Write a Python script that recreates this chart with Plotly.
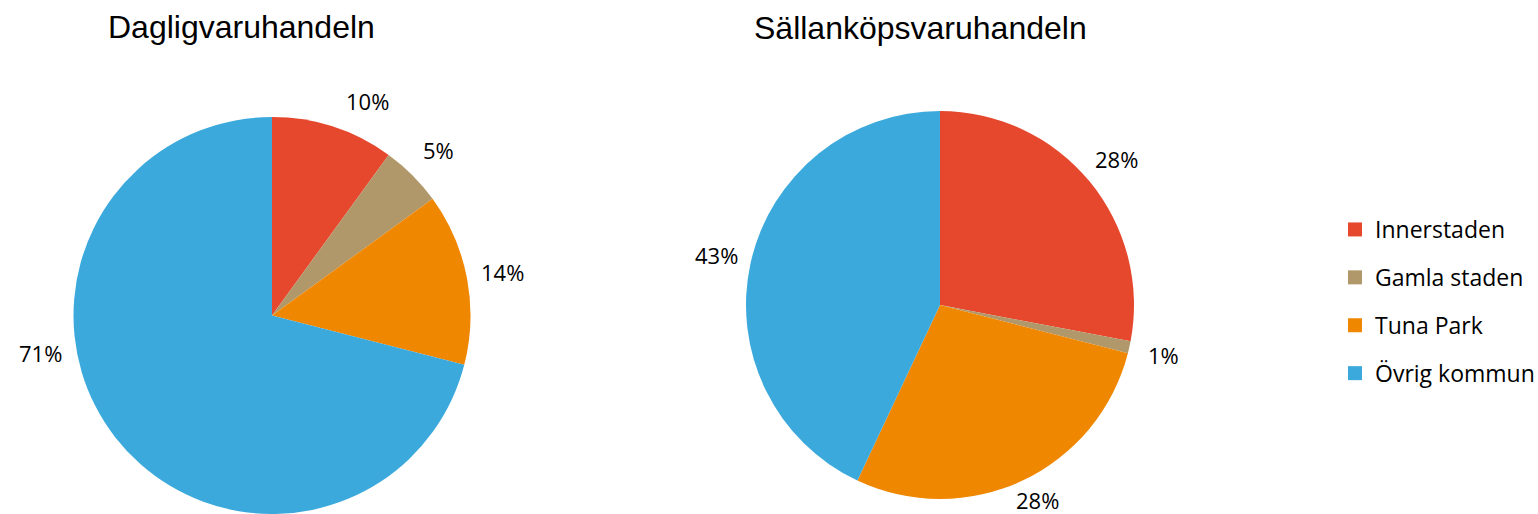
import math
import plotly.graph_objects as go

categories = ["Innerstaden", "Gamla staden", "Tuna Park", "Övrig kommun"]
colors = ["#E5482D", "#B1986A", "#F08700", "#3BA9DC"]
dagligvaru = [10, 5, 14, 71]
sallankop = [28, 1, 28, 43]
titles = ["Dagligvaruhandeln", "Sällanköpsvaruhandeln"]

W, H = 1538, 514
LABEL_FONT = dict(family="Open Sans, Lato, sans-serif", size=22, color="#000000")
LEGEND_FONT = dict(family="Open Sans, Lato, sans-serif", size=23, color="#000000")
TITLE_FONT = dict(family="Liberation Sans, Arial, sans-serif", size=32, color="#000000")

# pie geometry in pixels (center x, center y, radius) and title centres
PIES = [dict(cx=272, cy=316, r=199, title_x=241, title_y=27),
        dict(cx=940, cy=305, r=194, title_x=920, title_y=28)]
LABEL_DIST = 1.18
LABEL_BOTTOM_LIMIT = H - 14
# Excel moved some labels away from the slice mid-angle (best-fit placement)
LABEL_ANGLE_OVERRIDE = {(0, 0): 24, (0, 3): 261}

fig = go.Figure()

for pi, (vals, geo, title) in enumerate(zip([dagligvaru, sallankop], PIES, titles)):
    cx, cy, r = geo["cx"], geo["cy"], geo["r"]
    fig.add_trace(go.Pie(
        labels=categories, values=vals, sort=False, direction="clockwise", rotation=0,
        marker=dict(colors=colors, line=dict(width=0)),
        textinfo="none", showlegend=False, hoverinfo="label+value",
        domain=dict(x=[(cx - r) / W, (cx + r) / W],
                    y=[max(0, 1 - (cy + r) / H), 1 - (cy - r) / H]),
    ))
    total = sum(vals)
    cum = 0
    for si, v in enumerate(vals):
        mid = (cum + v / 2) / total * 360
        cum += v
        ang = math.radians(LABEL_ANGLE_OVERRIDE.get((pi, si), mid))
        lx = cx + LABEL_DIST * r * math.sin(ang)
        ly = min(cy - LABEL_DIST * r * math.cos(ang), LABEL_BOTTOM_LIMIT)
        fig.add_annotation(text=f"{v}%", x=lx / W, y=1 - ly / H, xref="paper", yref="paper",
                           showarrow=False, xanchor="center", yanchor="middle", font=LABEL_FONT)
    fig.add_annotation(text=title, x=geo["title_x"] / W, y=1 - geo["title_y"] / H,
                       xref="paper", yref="paper", showarrow=False,
                       xanchor="center", yanchor="middle", font=TITLE_FONT)

# legend entries
for name, c in zip(categories, colors):
    fig.add_trace(go.Scatter(
        x=[None], y=[None], mode="markers", name=name, legendgroup=name,
        marker=dict(symbol="square", size=14, color=c),
    ))

fig.update_layout(
    width=W, height=H,
    margin=dict(l=0, r=0, t=0, b=0, autoexpand=False),
    paper_bgcolor="white", plot_bgcolor="white",
    xaxis=dict(visible=False), yaxis=dict(visible=False),
    legend=dict(x=1335 / W, y=1 - 208 / H, xanchor="left", yanchor="top",
                font=LEGEND_FONT, tracegroupgap=15, traceorder="grouped",
                bgcolor="rgba(0,0,0,0)"),
    showlegend=True,
)

fig.write_html("out.html", config={"displayModeBar": False},
               post_script="document.body.style.margin='0';")
